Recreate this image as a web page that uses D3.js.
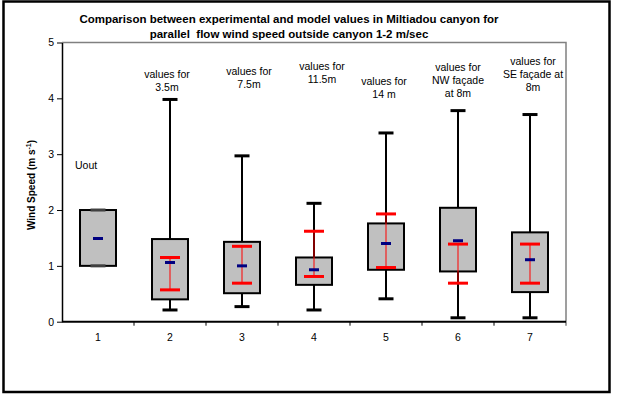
<!DOCTYPE html>
<html>
<head>
<meta charset="utf-8">
<script src="https://d3js.org/d3.v7.min.js"></script>
<style>
  body { margin: 0; background: #fff; }
  svg { display: block; font-family: Arial, "Liberation Sans", sans-serif; }
</style>
</head>
<body>
<div id="chart"></div>
<script>
// chart data
var categories = ["1", "2", "3", "4", "5", "6", "7"];
var boxMin  = [1.00, 0.21, 0.27, 0.21, 0.41, 0.07, 0.07];
var boxLow  = [1.00, 0.40, 0.51, 0.66, 0.93, 0.90, 0.53];
var boxHigh = [2.00, 1.48, 1.43, 1.15, 1.76, 2.04, 1.60];
var boxMax  = [2.00, 3.98, 2.97, 2.12, 3.38, 3.78, 3.71];
var meanValue = [1.49, 1.06, 1.00, 0.93, 1.40, 1.45, 1.11];
var modelLow  = [null, 0.57, 0.69, 0.81, 0.97, 0.69, 0.69];
var modelHigh = [null, 1.15, 1.35, 1.62, 1.93, 1.39, 1.39];
var yTicks = [0, 1, 2, 3, 4, 5];

var titleLines = ["Comparison between experimental and model values in Miltiadou canyon for",
                  "parallel  flow wind speed outside canyon 1-2 m/sec"];
var annotations = [
  { cat: "2", lines: ["values for", "3.5m"] },
  { cat: "3", lines: ["values for", "7.5m"] },
  { cat: "4", lines: ["values for", "11.5m"] },
  { cat: "5", lines: ["values for", "14 m"] },
  { cat: "6", lines: ["values for", "NW fa\u00e7ade", "at 8m"] },
  { cat: "7", lines: ["values for", "SE fa\u00e7ade at", "8m"] }
];
// label placement (pixel offset from category centre, top line y in pixels)
var annotationLayout = [
  { dx: -3, y: 74 }, { dx: 7, y: 71 }, { dx: 8, y: 66 },
  { dx: -2, y: 81 }, { dx: 0, y: 67 }, { dx: 3, y: 61 }
];

var width = 617, height = 394;
var plot = { left: 62, right: 566, top: 42.5, bottom: 321.7 };

var svg = d3.select("#chart").append("svg")
  .attr("width", width)
  .attr("height", height);

// outer chart border
svg.append("rect")
  .attr("x", 3.5).attr("y", 1.5)
  .attr("width", 606).attr("height", 390.5)
  .attr("fill", "none")
  .attr("stroke", "#000")
  .attr("stroke-width", 2.5);

var x = d3.scaleBand().domain(categories).range([plot.left, plot.right]).padding(0);
var y = d3.scaleLinear().domain([0, 5]).range([plot.bottom, plot.top]);

var boxW = x.bandwidth() / 2;
var capW = 15, meanW = 10, redCapW = 20;

// plot area frame (top + right are grey)
svg.append("path")
  .attr("d", "M" + plot.left + "," + plot.top + "H" + plot.right + "V" + (plot.bottom + 4))
  .attr("fill", "none")
  .attr("stroke", "#808080")
  .attr("stroke-width", 1.5);

// y axis
var yAxis = svg.append("g")
  .attr("transform", "translate(" + plot.left + ",0)")
  .call(d3.axisLeft(y).tickValues(yTicks).tickFormat(d3.format("d")).tickSize(5).tickSizeOuter(0));
yAxis.select(".domain").attr("stroke", "#000").attr("stroke-width", 1.5);
yAxis.selectAll(".tick line").attr("stroke", "#000").attr("stroke-width", 1);
yAxis.selectAll(".tick text")
  .attr("x", -8)
  .attr("font-size", "10.5px")
  .attr("fill", "#000")
  .attr("font-family", "Arial, 'Liberation Sans', sans-serif");

// x axis (ticks on category boundaries)
var xAxisG = svg.append("g")
  .attr("transform", "translate(0," + plot.bottom + ")");
xAxisG.append("line")
  .attr("x1", plot.left).attr("x2", plot.right)
  .attr("stroke", "#000").attr("stroke-width", 2);
xAxisG.selectAll(".xtick")
  .data(categories.slice(1))
  .enter().append("line")
  .attr("x1", function (d) { return x(d); })
  .attr("x2", function (d) { return x(d); })
  .attr("y1", 0).attr("y2", 4)
  .attr("stroke", "#000").attr("stroke-width", 1);
xAxisG.selectAll(".xlabel")
  .data(categories)
  .enter().append("text")
  .attr("x", function (d) { return x(d) + x.bandwidth() / 2; })
  .attr("y", 19.5)
  .attr("text-anchor", "middle")
  .attr("font-size", "10.5px")
  .text(function (d) { return d; });

// box groups
var boxes = svg.selectAll(".box")
  .data(categories)
  .enter().append("g")
  .attr("class", "box")
  .attr("transform", function (d) { return "translate(" + (x(d) + x.bandwidth() / 2) + ",0)"; });

// whiskers
boxes.append("line")
  .attr("y1", function (d, i) { return y(boxHigh[i]); })
  .attr("y2", function (d, i) { return y(boxMax[i]); })
  .attr("stroke", "#000").attr("stroke-width", 2);
boxes.append("line")
  .attr("y1", function (d, i) { return y(boxLow[i]); })
  .attr("y2", function (d, i) { return y(boxMin[i]); })
  .attr("stroke", "#000").attr("stroke-width", 2);

// box bodies
boxes.append("rect")
  .attr("x", -boxW / 2)
  .attr("width", boxW)
  .attr("y", function (d, i) { return y(boxHigh[i]); })
  .attr("height", function (d, i) { return y(boxLow[i]) - y(boxHigh[i]); })
  .attr("fill", "#c0c0c0")
  .attr("stroke", "#000")
  .attr("stroke-width", 2);

// whisker caps
[boxMax, boxMin].forEach(function (arr) {
  boxes.append("line")
    .attr("x1", -capW / 2).attr("x2", capW / 2)
    .attr("y1", function (d, i) { return y(arr[i]); })
    .attr("y2", function (d, i) { return y(arr[i]); })
    .attr("stroke", function (d, i) { return i === 0 ? "#404040" : "#000"; })
    .attr("stroke-width", 3);
});

// model range (red)
var modelBoxes = boxes.filter(function (d, i) { return modelLow[i] !== null; });
modelBoxes.append("line")
  .attr("y1", function (d) { return y(modelLow[categories.indexOf(d)]); })
  .attr("y2", function (d) { return y(modelHigh[categories.indexOf(d)]); })
  .attr("stroke", "#ff0000").attr("stroke-width", 1);
[modelLow, modelHigh].forEach(function (arr) {
  modelBoxes.append("line")
    .attr("x1", -redCapW / 2).attr("x2", redCapW / 2)
    .attr("y1", function (d) { return y(arr[categories.indexOf(d)]); })
    .attr("y2", function (d) { return y(arr[categories.indexOf(d)]); })
    .attr("stroke", "#ff0000").attr("stroke-width", 3);
});

// mean markers (navy)
boxes.append("line")
  .attr("x1", -meanW / 2).attr("x2", meanW / 2)
  .attr("y1", function (d, i) { return y(meanValue[i]); })
  .attr("y2", function (d, i) { return y(meanValue[i]); })
  .attr("stroke", "#000080").attr("stroke-width", 3);

// title
svg.append("text")
  .attr("text-anchor", "middle")
  .attr("font-size", "11.5px")
  .attr("font-weight", "bold")
  .style("white-space", "pre")
  .selectAll("tspan")
  .data(titleLines)
  .enter().append("tspan")
  .attr("x", 289)
  .attr("y", function (d, i) { return 22.5 + i * 15.5; })
  .text(function (d) { return d; });

// y axis title
var yTitle = svg.append("text")
  .attr("transform", "translate(35,185) rotate(-90)")
  .attr("text-anchor", "middle")
  .attr("font-size", "10px")
  .attr("font-weight", "bold");
yTitle.append("tspan").text("Wind Speed (m s");
yTitle.append("tspan").attr("font-size", "7px").attr("dy", -4).text("-1");
yTitle.append("tspan").attr("dy", 4).text(")");

// Uout label
svg.append("text")
  .attr("x", 75).attr("y", 169)
  .attr("font-size", "10.5px")
  .text("Uout");

// annotation labels
annotations.forEach(function (a, k) {
  var cx = x(a.cat) + x.bandwidth() / 2 + annotationLayout[k].dx;
  svg.append("text")
    .attr("text-anchor", "middle")
    .attr("font-size", "10.5px")
    .selectAll("tspan")
    .data(a.lines)
    .enter().append("tspan")
    .attr("x", cx)
    .attr("y", function (d, i) { return annotationLayout[k].y + 4 + i * 13; })
    .text(function (d) { return d; });
});
</script>
</body>
</html>
